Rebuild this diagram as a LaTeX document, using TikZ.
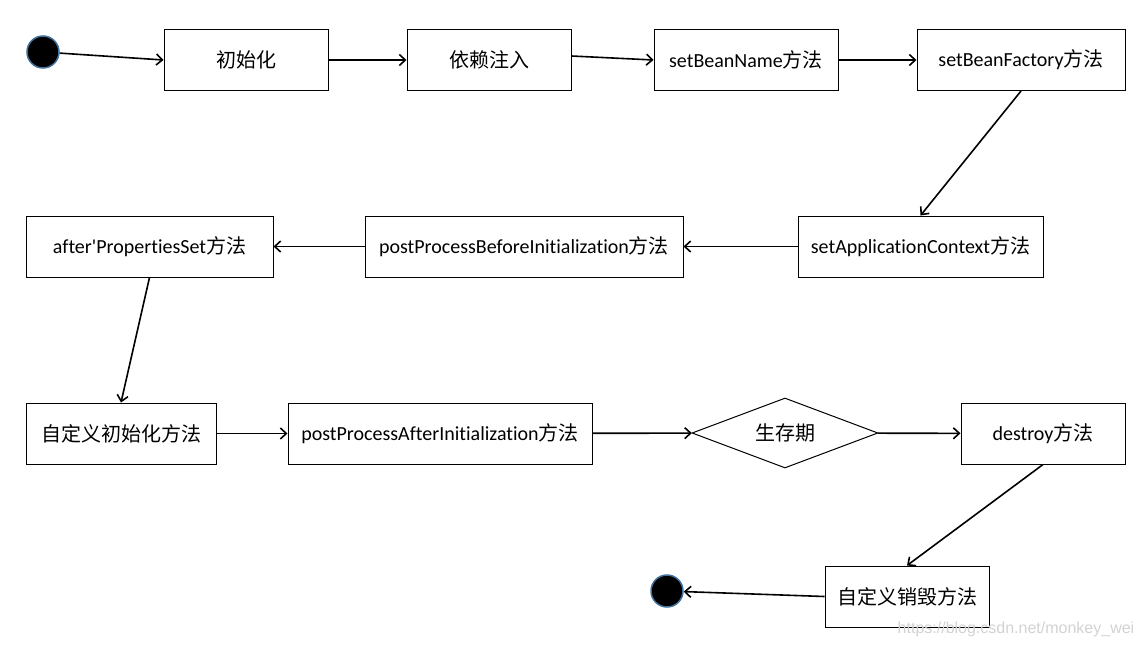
\documentclass[tikz,border=0pt]{standalone}
\usepackage{fontspec}
\setmainfont{Carlito}[RawFeature={-liga;-clig;-calt;-dlig}]
\newfontfamily\cjk{Noto Sans CJK SC}
\newfontfamily\wmfont{Liberation Sans}
\usetikzlibrary{shapes.geometric,arrows.meta}

\begin{document}
\begin{tikzpicture}[x=1pt,y=-1pt]
\tikzstyle{every node}=[draw,line width=1pt,inner sep=0pt,font=\fontsize{20}{24}\selectfont];
\tikzstyle{box}=[minimum height=61pt];
\tikzstyle{dot}=[circle,minimum size=32pt,fill=black,draw={rgb,255:red,65;green,113;blue,156},line width=1.5pt];
\tikzstyle{arr}=[line width=1.6pt,-{Straight Barb[length=6pt,width=11pt]}];
\useasboundingbox (0,0) rectangle (1142,647);
\node[dot] (s) at (43,52) {};
\node[box,minimum width=164pt] (1) at (246,60) {\cjk 初始化};
\node[box,minimum width=164pt] (2) at (489,60) {\cjk 依赖注入};
\node[box,minimum width=184pt] (3) at (746,60) {setBeanName{\cjk 方法}};
\node[box,minimum width=208pt] (4) at (1021,60) {setBeanFactory{\cjk 方法}};
\node[box,minimum width=245pt] (5) at (920.5,246.5) {setApplicationContext{\cjk 方法}};
\node[box,minimum width=318pt] (6) at (524,246.5) {postProcessBeforeInitialization{\cjk 方法}};
\node[box,minimum width=247pt] (7) at (149.5,246.5) {after\textquotesingle PropertiesSet{\cjk 方法}};
\node[box,minimum width=190pt] (8) at (121,433.5) {\cjk 自定义初始化方法};
\node[box,minimum width=304pt] (9) at (440,433.5) {postProcessAfterInitialization{\cjk 方法}};
\node[diamond,minimum width=186pt,minimum height=70pt,aspect=2.65] (10) at (785,433) {\cjk 生存期};
\node[box,minimum width=164pt] (11) at (1043,433.5) {destroy{\cjk 方法}};
\node[box,minimum width=164pt] (12) at (907,596.5) {\cjk 自定义销毁方法};
\node[dot] (e) at (667,591) {};
\node[draw=none,text=gray!35,font=\wmfont\fontsize{16}{18}\selectfont] (w) at (1016,629) {https://blog.csdn.net/monkey\_wei};
\path[arr] (s) edge (1.west)
(1) edge (2)
([yshift=4pt]2.east) edge (3.west)
(3) edge (4)
(4.south) edge (5.north)
(5) edge (6)
(6) edge (7)
(7.south) edge (8.north)
(8) edge (9)
(9) edge (10)
(10) edge (11)
(11.south) edge (12.north)
(12.west) edge (e);
\end{tikzpicture}
\end{document}
